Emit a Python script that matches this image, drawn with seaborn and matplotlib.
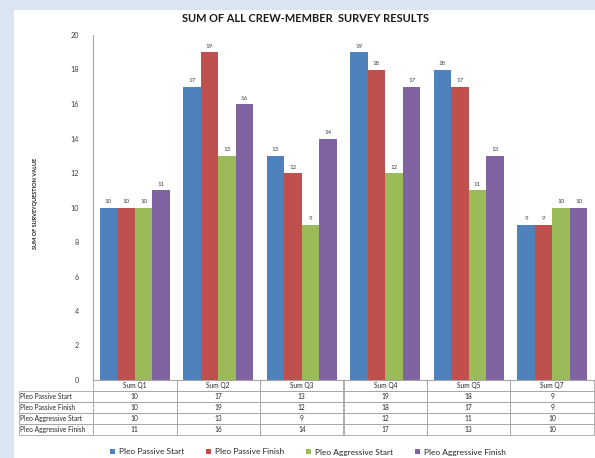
import matplotlib
matplotlib.use("Agg")
import matplotlib.pyplot as plt
import seaborn as sns
import pandas as pd
from matplotlib.patches import Rectangle

categories = ["Sum Q1", "Sum Q2", "Sum Q3", "Sum Q4", "Sum Q5", "Sum Q7"]
series_names = ["Pleo Passive Start", "Pleo Passive Finish",
                "Pleo Aggressive Start", "Pleo Aggressive Finish"]
passive_start = [10, 17, 13, 19, 18, 9]
passive_finish = [10, 19, 12, 18, 17, 9]
aggressive_start = [10, 13, 9, 12, 11, 10]
aggressive_finish = [11, 16, 14, 17, 13, 10]
yticks = [0, 2, 4, 6, 8, 10, 12, 14, 16, 18, 20]
colors = ["#4f81bd", "#c0504d", "#9bbb59", "#8064a2"]

series_values = [passive_start, passive_finish, aggressive_start, aggressive_finish]
rows = []
for name, vals in zip(series_names, series_values):
    for c, v in zip(categories, vals):
        rows.append({"Question": c, "Series": name, "Value": v})
df = pd.DataFrame(rows)

sns.set_theme(style="white")
plt.rcParams["font.family"] = ["Lato", "DejaVu Sans"]

W, H = 595, 458
fig = plt.figure(figsize=(W / 100, H / 100), dpi=100)
fig.patch.set_facecolor("#dbe5f1")
bg = Rectangle((14 / W, 0), 1 - 14 / W, 1 - 10 / H,
               transform=fig.transFigure, facecolor="white",
               edgecolor="none", zorder=-10)
fig.patches.append(bg)

ax_l, ax_r, ax_t, ax_b = 93, 594, 35, 380
ax = fig.add_axes([ax_l / W, 1 - ax_b / H, (ax_r - ax_l) / W, (ax_b - ax_t) / H])
ax.set_zorder(5)
ax.set_facecolor("none")

sns.barplot(data=df, x="Question", y="Value", hue="Series", hue_order=series_names,
            palette=colors, width=0.84, ax=ax, legend=False, saturation=1,
            linewidth=0, gap=0)

for cont in ax.containers:
    ax.bar_label(cont, fontsize=4.4, color="#404040", padding=2.5)

ax.set_ylim(0, 20)
ax.set_xlim(-0.5, 5.5)
ax.set_yticks(yticks)
ax.set_yticklabels([str(t) for t in yticks], fontsize=5.2, color="#404040")
ax.tick_params(axis="y", length=0, pad=10)
ax.set_xticks([])
ax.set_xlabel("")
ax.set_ylabel("")
for s in ["top", "right"]:
    ax.spines[s].set_visible(False)
ax.spines["left"].set_color("#a6a6a6")
ax.spines["bottom"].set_color("#a6a6a6")
ax.spines["left"].set_linewidth(0.8)
ax.spines["bottom"].set_linewidth(0.8)

# Data table below the axes
cell_text = [[name] + [str(v) for v in vals] for name, vals in zip(series_names, series_values)]
col_labels = [""] + categories
tab_left, tab_bottom = 19, 435
axw, axh = ax_r - ax_l, ax_b - ax_t
lab_w = ax_l - tab_left
col_w = axw / len(categories)
bbox = [(tab_left - ax_l) / axw, -(tab_bottom - ax_b) / axh,
        (ax_r - tab_left) / axw, (tab_bottom - ax_b) / axh]
tbl = ax.table(cellText=cell_text, colLabels=col_labels,
               colWidths=[lab_w] + [col_w] * len(categories),
               cellLoc="center", bbox=bbox)
tbl.auto_set_font_size(False)
tbl.set_fontsize(4.8)
for (r, c), cell in tbl.get_celld().items():
    cell.set_edgecolor("#a6a6a6")
    cell.set_linewidth(0.6)
    cell.set_facecolor("none")
    cell.get_text().set_color("#262626")
    if c == 0:
        cell.get_text().set_ha("left")
        cell.PAD = 0.02
tbl.get_celld()[(0, 0)].visible_edges = ""

fig.text(305 / W, 1 - 19 / H, "SUM OF ALL CREW-MEMBER  SURVEY RESULTS",
         ha="center", va="center", fontsize=7.9, fontweight="bold", color="#1a1a1a")
fig.text(35 / W, 1 - 203 / H, "SUM OF SURVEYQUESTION VALUE", rotation=90,
         ha="center", va="center", fontsize=4, fontweight="bold", color="#1a1a1a")

handles = [Rectangle((0, 0), 1, 1, facecolor=c, edgecolor="none") for c in colors]
fig.legend(handles, series_names, loc="center", bbox_to_anchor=(308 / W, 1 - 452 / H),
           ncol=4, frameon=False, fontsize=6.0, handlelength=0.6, handleheight=0.6,
           handletextpad=0.5, columnspacing=2.6)

fig.savefig("out.png", dpi=100, facecolor=fig.get_facecolor())
